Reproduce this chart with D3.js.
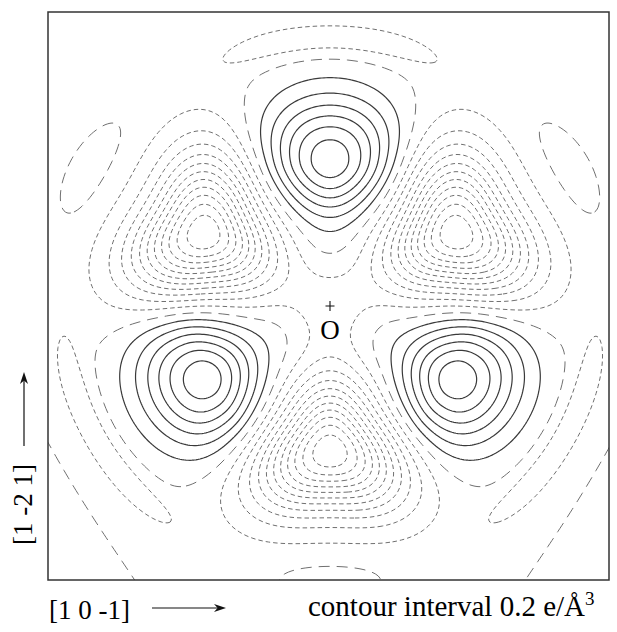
<!DOCTYPE html>
<html><head><meta charset="utf-8">
<script src="https://cdn.jsdelivr.net/npm/d3@7"></script>
<style>body{margin:0;background:#fff}</style>
</head><body><svg id="chart" width="617" height="632"></svg>
<script>
// Deformation density map around the O site, threefold symmetric.
// Map features: polar position from O (Å, degrees), height (e/Å^3), widths (Å).
// Groups: lobes, holes, outer troughs, outer bumps, far ridge, bridges, centre.
const featureAngle    = [90, 210, 330,  30, 150, 270,  90, 210, 330,  30, 150, 270,  90, 210, 330,  90, 210, 330,  0];
const featureRadius   = [1.45, 1.45, 1.45, 1.45, 1.45, 1.45, 2.68, 2.68, 2.68, 2.77, 2.77, 2.77, 4.0, 4.0, 4.0, 0.55, 0.55, 0.55, 0];
const featureHeight   = [1.40, 1.40, 1.40, -2.3, -2.3, -2.3, -0.30, -0.30, -0.30, 0.20, 0.20, 0.20, 0.27, 0.27, 0.27, 0.09, 0.09, 0.09, -0.18];
const featureSigmaIn  = [0.36, 0.36, 0.36, 0.40, 0.40, 0.40, 0.115, 0.115, 0.115, 0.13, 0.13, 0.13, 0.5, 0.5, 0.5, 0.2, 0.2, 0.2, 0.3];
const featureSigmaOut = [0.48, 0.48, 0.48, 0.45, 0.45, 0.45, 0.115, 0.115, 0.115, 0.13, 0.13, 0.13, 0.5, 0.5, 0.5, 0.2, 0.2, 0.2, 0.3];
const featureSigmaT   = [0.42, 0.42, 0.42, 0.45, 0.45, 0.45, 1.0, 1.0, 1.0, 0.35, 0.35, 0.35, 1.45, 1.45, 1.45, 0.25, 0.25, 0.25, 0.3];
const featureTriangle = [0.06, 0.06, 0.06, 0.16, 0.16, 0.16, 0, 0, 0, 0, 0, 0, 0, 0, 0, 0, 0, 0, 0];
const featureArc      = [0, 0, 0, 0, 0, 0, 1, 1, 1, 1, 1, 1, 1, 1, 1, 0, 0, 0, 0];
const featurePower    = [2, 2, 2, 2, 2, 2, 4, 4, 4, 2, 2, 2, 2, 2, 2, 2, 2, 2, 2];
const background = -0.06;

// Contour levels (e/Å^3)
const negativeLevels = [-2.2, -2.0, -1.8, -1.6, -1.4, -1.2, -1.0, -0.8, -0.6, -0.4, -0.2];
const zeroLevels = [0];
const positiveLevels = [0.2, 0.4, 0.6, 0.8, 1.0, 1.2];

// Map window (Å)
const xDomain = [-2.82, 2.79];
const yDomain = [-2.74, 2.94];

const svg = d3.select("#chart");
const frame = {left: 48, right: 609, top: 12, bottom: 580};
const x = d3.scaleLinear().domain(xDomain).range([frame.left, frame.right]);
const y = d3.scaleLinear().domain(yDomain).range([frame.bottom, frame.top]);

function density(X, Y) {
  const r = Math.hypot(X, Y), th = Math.atan2(Y, X);
  let f = background;
  for (let k = 0; k < featureHeight.length; k++) {
    const a0 = featureAngle[k] * Math.PI / 180, r0 = featureRadius[k];
    let q;
    if (featureArc[k]) {
      const dth = Math.atan2(Math.sin(th - a0), Math.cos(th - a0));
      const u = (r - r0) / (r < r0 ? featureSigmaIn[k] : featureSigmaOut[k]);
      const v = Math.abs(dth * r0 / featureSigmaT[k]);
      q = u * u + Math.pow(v, featurePower[k]);
    } else {
      const ex = X - r0 * Math.cos(a0), ey = Y - r0 * Math.sin(a0);
      const a = ex * Math.cos(a0) + ey * Math.sin(a0);
      const b = -ex * Math.sin(a0) + ey * Math.cos(a0);
      const d2 = a * a + b * b;
      const phi = Math.atan2(b, a);
      const s = 1 + featureTriangle[k] * Math.cos(3 * phi) * d2 / (d2 + 0.04);
      const sa = a < 0 ? featureSigmaIn[k] : featureSigmaOut[k];
      q = ((a / sa) ** 2 + (b / featureSigmaT[k]) ** 2) * s * s;
    }
    f += featureHeight[k] * Math.exp(-0.5 * q);
  }
  return f;
}

// Sample grid, a little larger than the frame so contours run out of it cleanly
const step = 2, pad = 20;
const gx0 = frame.left - pad, gy0 = frame.top - pad;
const nx = Math.ceil((frame.right - frame.left + 2 * pad) / step) + 1;
const ny = Math.ceil((frame.bottom - frame.top + 2 * pad) / step) + 1;
const grid = new Float64Array(nx * ny);
for (let j = 0; j < ny; j++) {
  const Y = y.invert(gy0 + j * step);
  for (let i = 0; i < nx; i++) grid[j * nx + i] = density(x.invert(gx0 + i * step), Y);
}

const path = d3.geoPath(d3.geoIdentity().scale(step).translate([gx0 - 0.5 * step, gy0 - 0.5 * step]));
const contourGen = d3.contours().size([nx, ny]);

svg.append("defs").append("clipPath").attr("id", "frameClip")
  .append("rect").attr("x", frame.left).attr("y", frame.top)
  .attr("width", frame.right - frame.left).attr("height", frame.bottom - frame.top);

const plot = svg.append("g").attr("clip-path", "url(#frameClip)");

function drawLevels(levels, cls, stroke, width, dash) {
  plot.append("g").attr("class", cls)
    .selectAll("path").data(contourGen.thresholds(levels)(grid))
    .join("path")
    .attr("d", path)
    .attr("fill", "none")
    .attr("stroke", stroke)
    .attr("stroke-width", width)
    .attr("stroke-dasharray", dash);
}
drawLevels(negativeLevels, "negative", "#707070", 1, "4.5,3");
drawLevels(zeroLevels, "zero", "#707070", 1, "11,7");
drawLevels(positiveLevels, "positive", "#3a3a3a", 1.2, null);

svg.append("rect").attr("x", frame.left).attr("y", frame.top)
  .attr("width", frame.right - frame.left).attr("height", frame.bottom - frame.top)
  .attr("fill", "none").attr("stroke", "#333").attr("stroke-width", 1.5);

const serif = "Liberation Serif, Times New Roman, serif";

// Site marker at O
const ox = x(0), oy = y(0);
svg.append("path").attr("d", `M${ox - 4.5},${oy}H${ox + 4.5}M${ox},${oy - 5}V${oy + 5}`)
  .attr("stroke", "#111").attr("stroke-width", 1.1);
svg.append("text").attr("x", ox).attr("y", oy + 33).attr("text-anchor", "middle")
  .attr("font-family", serif).attr("font-size", 27).text("O");

// Direction labels and arrows
svg.append("text").attr("x", 49).attr("y", 619).attr("font-family", serif)
  .attr("font-size", 27).text("[1 0 -1]");
svg.append("text").attr("x", 308).attr("y", 616).attr("font-family", serif)
  .attr("font-size", 29).text("contour interval 0.2 e/Å")
  .append("tspan").attr("font-size", 19).attr("dy", -11).text("3");
svg.append("text").attr("transform", "translate(32,545) rotate(-90)").attr("font-family", serif)
  .attr("font-size", 27).text("[1 -2 1]");

function arrow(x1, y1, x2, y2) {
  const ang = Math.atan2(y2 - y1, x2 - x1), L = 12, W = 4;
  svg.append("line").attr("x1", x1).attr("y1", y1).attr("x2", x2 - L * 0.6 * Math.cos(ang)).attr("y2", y2 - L * 0.6 * Math.sin(ang))
    .attr("stroke", "#111").attr("stroke-width", 1.2);
  const p = [[x2, y2],
    [x2 - L * Math.cos(ang) - W * Math.sin(ang), y2 - L * Math.sin(ang) + W * Math.cos(ang)],
    [x2 - L * 0.7 * Math.cos(ang), y2 - L * 0.7 * Math.sin(ang)],
    [x2 - L * Math.cos(ang) + W * Math.sin(ang), y2 - L * Math.sin(ang) - W * Math.cos(ang)]];
  svg.append("path").attr("d", d3.line()(p) + "Z").attr("fill", "#111");
}
arrow(152, 608, 226, 608);
arrow(24, 446, 24, 372);
</script>
</body></html>
